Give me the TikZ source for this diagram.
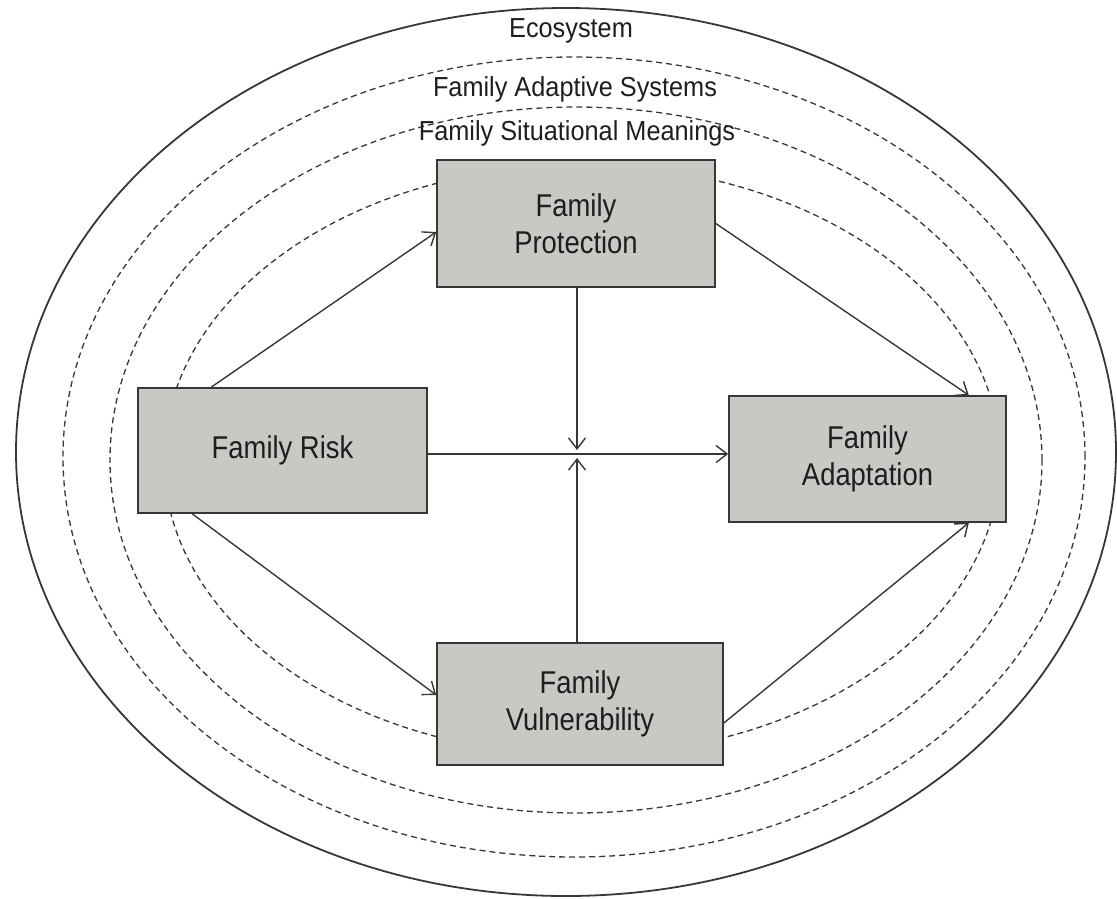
\documentclass[tikz,border=0pt]{standalone}
\usepackage{fontspec}
\setmainfont{Liberation Sans}
\newfontfamily\lblfont[FakeStretch=0.92]{Liberation Sans}
\newfontfamily\boxfont[FakeStretch=0.87]{Liberation Sans}
\usetikzlibrary{arrows.meta}
\definecolor{boxfill}{RGB}{199,201,197}
\definecolor{linec}{RGB}{55,55,55}
\definecolor{txt}{RGB}{30,30,30}
\tikzset{
  ring/.style={draw=linec, line width=1.3pt, dash pattern=on 6pt off 4pt},
  outer/.style={draw=linec, line width=1.8pt},
  fbox/.style={draw=linec, line width=1.6pt, fill=boxfill, inner sep=0pt, align=center,
     text=txt, font=\boxfont\fontsize{31.5}{36.5}\selectfont},
  lbl/.style={text=txt, font=\lblfont\fontsize{27.5}{30}\selectfont, inner sep=0pt, anchor=base},
  arr/.style={draw=linec, line width=1.4pt, -{Straight Barb[length=11pt,width=17pt,line width=1.4pt]}}
}
\begin{document}
\begin{tikzpicture}[x=1pt,y=-1pt]
\useasboundingbox (0,0) rectangle (1117,898);
% ellipses
\draw[outer] (566,452) ellipse [x radius=550pt, y radius=444pt];
\draw[ring] (574,457) ellipse [x radius=511pt, y radius=400pt];
\draw[ring] (576,460) ellipse [x radius=466pt, y radius=353pt];
\draw[ring] (582,460) ellipse [x radius=418pt, y radius=295pt];
% labels
\node[lbl] (eco) at (571,37) {Ecosystem};
\node[lbl] (fas) at (575,96) {Family Adaptive Systems};
\node[lbl] (fsm) at (577,140) {Family Situational Meanings};
% boxes
\node[fbox, minimum width=278pt, minimum height=127pt] (prot) at (576,223.5) {Family\\Protection};
\node[fbox, minimum width=289pt, minimum height=125pt] (risk) at (282.5,450.5) {Family Risk};
\node[fbox, minimum width=277pt, minimum height=126pt] (adapt) at (867.5,459) {Family\\Adaptation};
\node[fbox, minimum width=286pt, minimum height=122pt] (vul) at (580,704) {Family\\Vulnerability};
% arrows
\coordinate (mid) at (577,454);
\draw[arr] ([xshift=74pt]risk.north west) -- ([yshift=-8.5pt]prot.west);
\draw[arr] ([xshift=55pt]risk.south west) -- ([yshift=9pt]vul.west);
\draw[arr] (prot.east) -- ([xshift=-38pt]adapt.north east);
\draw[arr] ([yshift=-19pt]vul.east) -- ([xshift=-38pt]adapt.south east);
\draw[arr] (risk.east |- mid) -- (adapt.west |- mid);
\draw[arr] (prot.south -| mid) -- ([yshift=4pt]mid);
\draw[arr] (vul.north -| mid) -- ([yshift=-4pt]mid);
\end{tikzpicture}
\end{document}
